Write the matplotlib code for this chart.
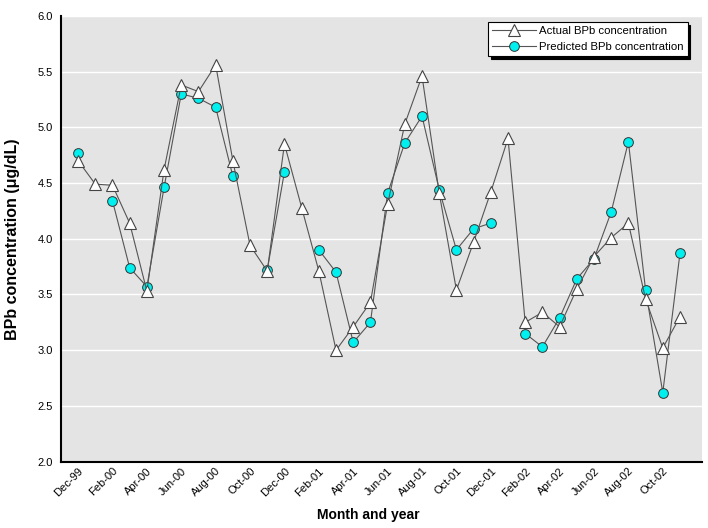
import numpy as np
import matplotlib
matplotlib.use("Agg")
import matplotlib.pyplot as plt

plt.rcParams["font.family"] = ["Liberation Sans", "DejaVu Sans"]

MONTHS = ["Dec-99", "Jan-00", "Feb-00", "Mar-00", "Apr-00", "May-00", "Jun-00", "Jul-00",
          "Aug-00", "Sep-00", "Oct-00", "Nov-00", "Dec-00", "Jan-01", "Feb-01", "Mar-01",
          "Apr-01", "May-01", "Jun-01", "Jul-01", "Aug-01", "Sep-01", "Oct-01", "Nov-01",
          "Dec-01", "Jan-02", "Feb-02", "Mar-02", "Apr-02", "May-02", "Jun-02", "Jul-02",
          "Aug-02", "Sep-02", "Oct-02", "Nov-02"]

ACTUAL = [4.70, 4.49, 4.48, 4.14, 3.53, 4.62, 5.38, 5.32, 5.56, 4.70, 3.94, 3.71,
          4.85, 4.28, 3.71, 3.00, 3.21, 3.43, 4.31, 5.03, 5.46, 4.41, 3.54, 3.97,
          4.42, 4.90, 3.25, 3.34, 3.21, 3.55, 3.84, 4.01, 4.14, 3.46, 3.02, 3.30]

PREDICTED = [4.77, np.nan, 4.34, 3.74, 3.57, 4.46, 5.30, 5.26, 5.18, 4.56, np.nan, 3.72,
             4.60, np.nan, 3.90, 3.70, 3.07, 3.25, 4.41, 4.86, 5.10, 4.44, 3.90, 4.09,
             4.14, np.nan, 3.15, 3.03, 3.29, 3.64, 3.82, 4.24, 4.87, 3.54, 2.62, 3.87]

YTICKS = [2.0, 2.5, 3.0, 3.5, 4.0, 4.5, 5.0, 5.5, 6.0]

x = np.arange(len(MONTHS))

fig = plt.figure(figsize=(7.08, 5.28), dpi=100)
ax = fig.add_axes([0.086, 0.1256, 0.906, 0.8444])
ax.set_facecolor("#E4E4E4")

for yv in YTICKS[1:]:
    ax.axhline(yv, color="white", lw=1.0, zorder=0)

ax.plot(x, ACTUAL, color="#555555", lw=0.8, marker="^", ms=9,
        markerfacecolor="white", markeredgecolor="#444444", markeredgewidth=0.8,
        label="Actual BPb concentration", zorder=3)
ax.plot(x, PREDICTED, color="#555555", lw=0.8, marker="o", ms=7,
        markerfacecolor="#00F0F0", markeredgecolor="#333333", markeredgewidth=0.7,
        label="Predicted BPb concentration", zorder=2)

ax.set_xlim(-1, 36.3)
ax.set_ylim(2.0, 6.0)
ax.set_yticks(YTICKS)
ax.set_yticklabels([f"{v:.1f}" for v in YTICKS], fontsize=8)
ax.set_xticks(x[::2])
ax.set_xticklabels(MONTHS[::2], rotation=45, ha="right", rotation_mode="anchor", fontsize=8)
ax.tick_params(axis="y", length=0, pad=6)
ax.tick_params(axis="x", length=0, pad=3)

for side in ["top", "right"]:
    ax.spines[side].set_visible(False)
for side in ["left", "bottom"]:
    ax.spines[side].set_color("black")
    ax.spines[side].set_linewidth(1.5)

ax.set_xlabel("Month and year", fontsize=10, fontweight="bold")
ax.xaxis.set_label_coords(0.48, -0.104)
ax.set_ylabel("BPb concentration (μg/dL)", fontsize=11.5, fontweight="bold")
ax.yaxis.set_label_coords(-0.063, 0.5)

leg = ax.legend(loc="upper right", bbox_to_anchor=(0.977, 0.986), fontsize=8.2,
                frameon=True, fancybox=False, shadow={"color": "black", "alpha": 1.0},
                borderpad=0.35, borderaxespad=0, labelspacing=0.5,
                handlelength=3.8, handletextpad=0.3)
leg.get_frame().set_edgecolor("black")
leg.get_frame().set_linewidth(0.8)
leg.get_frame().set_alpha(1.0)

fig.savefig("out.png", dpi=100, facecolor="white")
